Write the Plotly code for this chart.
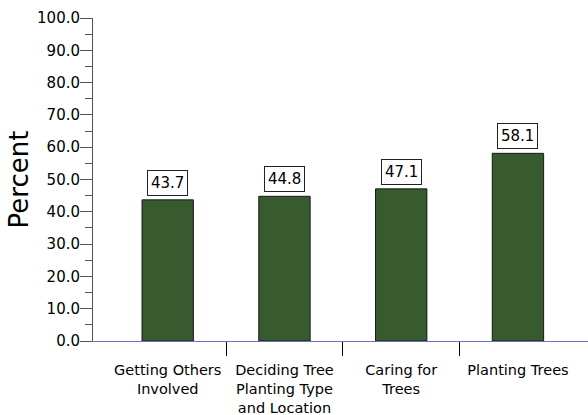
import plotly.graph_objects as go

categories = ["Getting Others<br>Involved", "Deciding Tree<br>Planting Type<br>and Location",
              "Caring for<br>Trees", "Planting Trees"]
values = [43.7, 44.8, 47.1, 58.1]
y_ticks = [0, 10, 20, 30, 40, 50, 60, 70, 80, 90, 100]
y_tick_labels = [f"{v:.1f}" for v in y_ticks]
positions = list(range(len(categories)))
separators = [p + 0.5 for p in positions[:-1]]

FONT = "DejaVu Sans, Verdana, sans-serif"

fig = go.Figure()
fig.add_trace(go.Bar(
    x=positions, y=values, width=0.44,
    marker=dict(color="#385a2f", line=dict(color="#1a1a1a", width=1)),
    hoverinfo="skip", showlegend=False,
))
# dummy trace for the separator tick axis
fig.add_trace(go.Scatter(x=[positions[0]], y=[0], xaxis="x2", mode="none",
                         showlegend=False, hoverinfo="skip"))

for p, v in zip(positions, values):
    fig.add_annotation(
        x=p, y=v, text=f"{v:.1f}", showarrow=False, yanchor="bottom", yshift=4,
        font=dict(family=FONT, size=15, color="#000"),
        bgcolor="white", bordercolor="#222", borderwidth=1, borderpad=3,
    )

xr = [-0.64, 3.6]
fig.update_layout(
    width=588, height=415,
    margin=dict(l=93, r=0, t=18, b=74),
    plot_bgcolor="white", paper_bgcolor="white",
    font=dict(family=FONT, color="#000"),
    xaxis=dict(
        range=xr, tickmode="array", tickvals=positions, ticktext=categories,
        ticks="", showgrid=False, zeroline=False,
        showline=True, linecolor="#6f72b8", linewidth=1,
        tickfont=dict(size=14.5), ticklabelstandoff=16,
    ),
    xaxis2=dict(
        range=xr, overlaying="x", side="bottom", tickmode="array",
        tickvals=separators, showticklabels=False, ticks="outside",
        ticklen=14, tickcolor="#000", tickwidth=1, showgrid=False,
        zeroline=False, showline=False, anchor="y",
    ),
    yaxis=dict(
        range=[0, 100], tickmode="array", tickvals=y_ticks, ticktext=y_tick_labels,
        ticks="outside", ticklen=12, tickcolor="#555", tickwidth=1,
        showline=True, linecolor="#555", linewidth=1, showgrid=False, zeroline=False,
        tickfont=dict(size=15), ticklabelstandoff=-3,
        minor=dict(ticks="outside", ticklen=7, tickcolor="#555", dtick=5, tick0=0),
        title=dict(text="Percent", font=dict(size=26), standoff=0),
    ),
)

fig.write_html("out.html")
